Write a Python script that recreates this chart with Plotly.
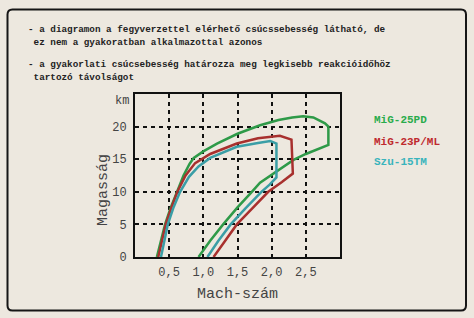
import plotly.graph_objects as go

# ---- data (Mach, altitude km) ----
mig25_mach = [0.32, 0.38, 0.44, 0.52, 0.61, 0.71, 0.80, 0.86, 1.00, 1.20, 1.50, 1.83, 2.10, 2.30, 2.46, 2.61, 2.78, 2.83, 2.83, 2.71, 2.50, 2.32, 2.05, 1.83, 1.71, 1.50, 1.29, 1.10, 0.93]
mig25_alt  = [0.0, 2.5, 5.0, 7.5, 10.0, 12.5, 14.3, 15.2, 16.2, 17.4, 18.9, 20.2, 21.0, 21.4, 21.6, 21.4, 20.5, 20.0, 17.2, 16.7, 15.8, 14.9, 13.0, 11.4, 10.0, 7.6, 5.0, 2.5, 0.0]

mig23_mach = [0.34, 0.39, 0.45, 0.53, 0.62, 0.74, 0.88, 1.10, 1.49, 1.80, 2.00, 2.12, 2.29, 2.31, 2.15, 1.95, 1.72, 1.49, 1.32, 1.15]
mig23_alt  = [0.0, 2.5, 5.0, 7.5, 10.0, 12.5, 14.4, 15.8, 17.4, 18.2, 18.5, 18.6, 18.0, 12.8, 11.5, 10.0, 7.5, 5.0, 2.5, 0.0]

su15_mach = [0.38, 0.43, 0.48, 0.56, 0.66, 0.79, 0.93, 1.10, 1.49, 1.80, 1.98, 2.07, 2.07, 1.97, 1.85, 1.62, 1.40, 1.22, 1.06]
su15_alt  = [0.0, 2.5, 5.0, 7.5, 10.0, 12.3, 13.9, 15.2, 16.9, 17.5, 17.8, 17.4, 12.2, 11.1, 10.0, 7.5, 5.0, 2.5, 0.0]

series_names = ["MiG-25PD", "MiG-23P/ML", "Szu-15TM"]
series_colors = ["#2e9a48", "#a8302e", "#3a9ea6"]
legend_colors = ["#2aac4c", "#bf2a2e", "#3ab4bc"]

x_tickvals = [0.5, 1.0, 1.5, 2.0, 2.5]
x_ticktext = ["0,5", "1,0", "1,5", "2,0", "2,5"]
y_tickvals = [0, 5, 10, 15, 20]
y_ticktext = ["0", "5", "10", "15", "20"]

notes = [
    "- a diagramon a fegyverzettel elérhető csúcssebesség látható, de",
    " ez nem a gyakoratban alkalmazottal azonos",
    "- a gyakorlati csúcsebesség határozza meg legkisebb reakcióidőhöz",
    " tartozó távolságot",
]

# ---- layout geometry (pixels) ----
W, H = 474, 318
L, R, T, B = 135, 340, 94, 257
PW, PH = R - L, B - T


def px(x):
    return (x - L) / PW


def py(y):
    return (B - y) / PH


BG = "#ede8df"
FONT = "Courier New, Liberation Mono, monospace"

fig = go.Figure()
for xs, ys, nm, col in [(mig25_mach, mig25_alt, series_names[0], series_colors[0]),
                        (mig23_mach, mig23_alt, series_names[1], series_colors[1]),
                        (su15_mach, su15_alt, series_names[2], series_colors[2])]:
    fig.add_trace(go.Scatter(x=xs, y=ys, mode="lines", name=nm,
                             line=dict(color=col, width=2.5), showlegend=False))

# outer rounded frame
x0, x1, y0, y1 = 7.5, 466, 9.5, 310.5
r = 5
rx, ry = r / PW, r / PH
path = (f"M {px(x0)+rx},{py(y0)} L {px(x1)-rx},{py(y0)} Q {px(x1)},{py(y0)} {px(x1)},{py(y0)-ry} "
        f"L {px(x1)},{py(y1)+ry} Q {px(x1)},{py(y1)} {px(x1)-rx},{py(y1)} "
        f"L {px(x0)+rx},{py(y1)} Q {px(x0)},{py(y1)} {px(x0)},{py(y1)+ry} "
        f"L {px(x0)},{py(y0)-ry} Q {px(x0)},{py(y0)} {px(x0)+rx},{py(y0)} Z")
fig.add_shape(type="path", path=path, xref="paper", yref="paper",
              line=dict(color="#161616", width=2), layer="below")

annotations = []
note_pos = [(26, 29), (26, 42), (26, 65), (26, 78)]
for txt, (nx, ny) in zip(notes, note_pos):
    annotations.append(dict(x=px(nx), y=py(ny), xref="paper", yref="paper", text=txt,
                            showarrow=False, xanchor="left", yanchor="middle",
                            font=dict(family=FONT, size=9.3, color="#222", weight="bold")))

for nm, col, ly in zip(series_names, legend_colors, [120, 142, 162]):
    annotations.append(dict(x=px(372), y=py(ly), xref="paper", yref="paper", text=nm,
                            showarrow=False, xanchor="left", yanchor="middle",
                            font=dict(family=FONT, size=11, color=col, weight="bold")))

annotations.append(dict(x=px(131), y=py(101), xref="paper", yref="paper", text="km",
                        showarrow=False, xanchor="right", yanchor="middle",
                        font=dict(family=FONT, size=12, color="#444")))
annotations.append(dict(x=px(103), y=py(190), xref="paper", yref="paper", text="Magasság",
                        showarrow=False, textangle=-90, xanchor="center", yanchor="middle",
                        font=dict(family=FONT, size=15, color="#444")))

fig.update_layout(
    width=W, height=H,
    margin=dict(l=L, r=W - R, t=T, b=H - B, pad=0),
    paper_bgcolor=BG, plot_bgcolor=BG,
    annotations=annotations,
    xaxis=dict(range=[0, 3], tickvals=x_tickvals, ticktext=x_ticktext,
               showgrid=True, gridcolor="#111", gridwidth=2, griddash="4px,4px",
               showline=True, linecolor="#111", linewidth=2, mirror=True, zeroline=False,
               ticks="", ticklabelstandoff=3,
               tickfont=dict(family=FONT, size=12, color="#444"),
               title=dict(text="Mach-szám", font=dict(family=FONT, size=15, color="#444"), standoff=8)),
    yaxis=dict(range=[0, 25], tickvals=y_tickvals, ticktext=y_ticktext,
               showgrid=True, gridcolor="#111", gridwidth=2, griddash="4px,4px",
               showline=True, linecolor="#111", linewidth=2, mirror=True, zeroline=False,
               ticks="", ticklabelstandoff=4,
               tickfont=dict(family=FONT, size=12, color="#444")),
)

fig.write_html("out.html")
